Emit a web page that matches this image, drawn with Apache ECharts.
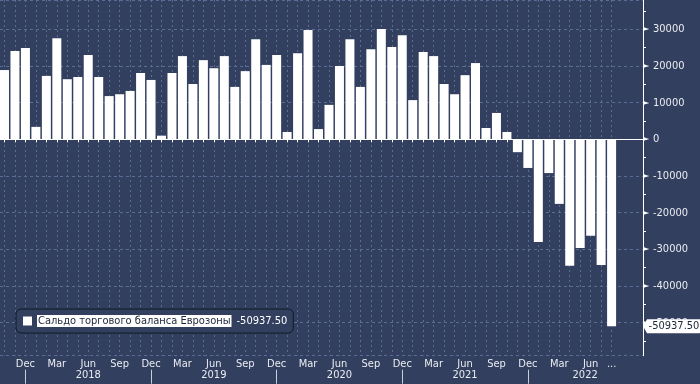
<!DOCTYPE html>
<html>
<head>
<meta charset="utf-8">
<script src="https://cdn.jsdelivr.net/npm/echarts@6/dist/echarts.min.js"></script>
<style>
html,body{margin:0;padding:0;background:#333f5e;}
#c{width:700px;height:384px;}
</style>
</head>
<body>
<div id="c"></div>
<script>
// Month categories (first and last three are empty padding months of the time axis)
const categories = [
  'Sep 2017','Oct 2017','Nov 2017','Dec 2017',
  'Jan 2018','Feb 2018','Mar 2018','Apr 2018','May 2018','Jun 2018','Jul 2018','Aug 2018','Sep 2018','Oct 2018','Nov 2018','Dec 2018',
  'Jan 2019','Feb 2019','Mar 2019','Apr 2019','May 2019','Jun 2019','Jul 2019','Aug 2019','Sep 2019','Oct 2019','Nov 2019','Dec 2019',
  'Jan 2020','Feb 2020','Mar 2020','Apr 2020','May 2020','Jun 2020','Jul 2020','Aug 2020','Sep 2020','Oct 2020','Nov 2020','Dec 2020',
  'Jan 2021','Feb 2021','Mar 2021','Apr 2021','May 2021','Jun 2021','Jul 2021','Aug 2021','Sep 2021','Oct 2021','Nov 2021','Dec 2021',
  'Jan 2022','Feb 2022','Mar 2022','Apr 2022','May 2022','Jun 2022','Jul 2022','Aug 2022','Sep 2022','Oct 2022','Nov 2022'
];
// Values Oct 2017 .. Aug 2022 (EUR m)
const values = [
  18900, 24100, 24900, 3400, 17300, 27600, 16400, 17000, 23000, 17000,
  11800, 12300, 13200, 18100, 16200, 1000, 18100, 22700, 15100, 21600,
  19400, 22700, 14300, 18600, 27300, 20300, 23000, 2000, 23500, 29800,
  2800, 9400, 20000, 27300, 14300, 24600, 30100, 25200, 28400, 10700,
  23800, 22700, 15100, 12300, 17500, 20800, 3100, 7200, 2000, -3500,
  -7800, -28000, -9200, -17600, -34500, -29600, -26300, -34300, -50937.5
];
const firstDataIndex = 1;
const seriesName = 'Сальдо торгового баланса Еврозоны';
const quarterLabels = ['Mar', 'Jun', 'Sep', 'Dec'];
const yearLabelMonth = 'Jun';
const yearSeparatorMonth = 'Dec';
const truncatedLabel = '...';
const yMin = -59000, yMax = 38000;

const lastValue = values[values.length - 1];
const lastValueText = lastValue.toFixed(2);
const lastDataIndex = firstDataIndex + values.length - 1;
const lastYear = categories[lastDataIndex].split(' ')[1];
const seriesData = categories.map((c, i) =>
  (i >= firstDataIndex && i <= lastDataIndex) ? values[i - firstDataIndex] : null);
const mon = c => c.split(' ')[0];
const inData = i => i >= firstDataIndex && i <= lastDataIndex;

const FONT = 'DejaVu Sans Condensed';
const TXT = '#e9ecf2';
const GRIDLINE = '#5a6d96';

const chart = echarts.init(document.getElementById('c'), null, {renderer: 'canvas'});
chart.setOption({
  animation: false,
  backgroundColor: '#333f5e',
  textStyle: {fontFamily: FONT},
  grid: {left: -5.97, right: 57, top: 0, bottom: 28.3, containLabel: false, outerBoundsMode: 'none'},
  legend: {
    left: 16, top: 309,
    padding: [6, 6, 6, 7],
    itemWidth: 9, itemHeight: 9, itemGap: 0,
    icon: 'rect',
    backgroundColor: '#333f5e',
    borderColor: '#111827', borderWidth: 1, borderRadius: 5,
    selectedMode: false,
    formatter: name => '{n|' + name + '}{v|' + lastValueText + '}',
    textStyle: {
      fontFamily: FONT, fontSize: 11, color: '#fff',
      rich: {
        n: {backgroundColor: '#ffffff', color: '#1b2437', fontFamily: FONT, fontSize: 11, padding: [1, 1, 0, 1]},
        v: {color: '#ffffff', fontFamily: FONT, fontSize: 11, padding: [0, 0, 0, 5]}
      }
    },
    data: [{name: seriesName, itemStyle: {color: '#ffffff'}}]
  },
  xAxis: [{
    type: 'category',
    data: categories,
    boundaryGap: false,
    axisLine: {show: true, lineStyle: {color: '#ffffff', width: 1}},
    axisTick: {show: true, length: 3, interval: (i) => inData(i),
      lineStyle: {color: '#ffffff'}},
    axisLabel: {
      show: true, margin: 3, color: TXT, fontFamily: FONT, fontSize: 11,
      interval: (i, v) => inData(i) && (quarterLabels.includes(mon(v)) || i === lastDataIndex),
      formatter: (v, i) => i === lastDataIndex ? truncatedLabel : mon(v)
    },
    splitLine: {show: true, interval: (i) => inData(i),
      lineStyle: {color: GRIDLINE, type: [2, 3], width: 1}}
  }, {
    type: 'category',
    data: categories,
    boundaryGap: false,
    position: 'bottom',
    offset: 14,
    axisLine: {show: false},
    axisTick: {show: true, length: 14, interval: (i, v) => inData(i) && mon(v) === yearSeparatorMonth,
      lineStyle: {color: '#c9ced8'}},
    axisLabel: {
      show: true, margin: 0, color: TXT, fontFamily: FONT, fontSize: 11,
      interval: (i, v) => inData(i) && mon(v) === yearLabelMonth,
      formatter: v => {
        const y = v.split(' ')[1];
        return y === lastYear ? '{p|' + y + '}' : y;
      },
      rich: {p: {color: TXT, fontFamily: FONT, fontSize: 11, padding: [0, 11, 0, 0]}}
    },
    splitLine: {show: false}
  }],
  yAxis: {
    type: 'value',
    position: 'right',
    min: yMin, max: yMax,
    splitNumber: 10,
    axisLine: {show: true, lineStyle: {color: '#ffffff', width: 1}},
    axisTick: {show: false},
    minorTick: {show: true, splitNumber: 2, length: 3, lineStyle: {color: '#ffffff'}},
    splitLine: {show: true, lineStyle: {color: GRIDLINE, type: [3, 3], width: 1}},
    axisLabel: {
      show: true, margin: 0, color: TXT, fontFamily: FONT, fontSize: 11,
      showMinLabel: false, showMaxLabel: false,
      formatter: v => '{t|►}{n|' + v + '}',
      rich: {
        t: {color: '#ffffff', fontSize: 8, width: 10, fontFamily: 'DejaVu Sans'},
        n: {color: TXT, fontSize: 11, fontFamily: FONT}
      }
    }
  },
  series: [{
    name: seriesName,
    type: 'bar',
    data: seriesData,
    barWidth: 9,
    itemStyle: {color: '#ffffff'},
    emphasis: {disabled: true},
    markPoint: {
      silent: true,
      symbol: 'path://M0,6.5 L4,0 L55,0 Q57,0 57,2 L57,11 Q57,13 55,13 L4,13 Z',
      symbolSize: [58, 14],
      symbolOffset: [29, 0],
      symbolKeepAspect: false,
      itemStyle: {color: '#ffffff'},
      label: {
        show: true, position: 'inside', offset: [2, 0],
        formatter: lastValueText, color: '#1b2437',
        fontFamily: FONT, fontSize: 11
      },
      data: [{coord: [categories[categories.length - 1], lastValue]}]
    }
  }]
});
</script>
</body>
</html>
